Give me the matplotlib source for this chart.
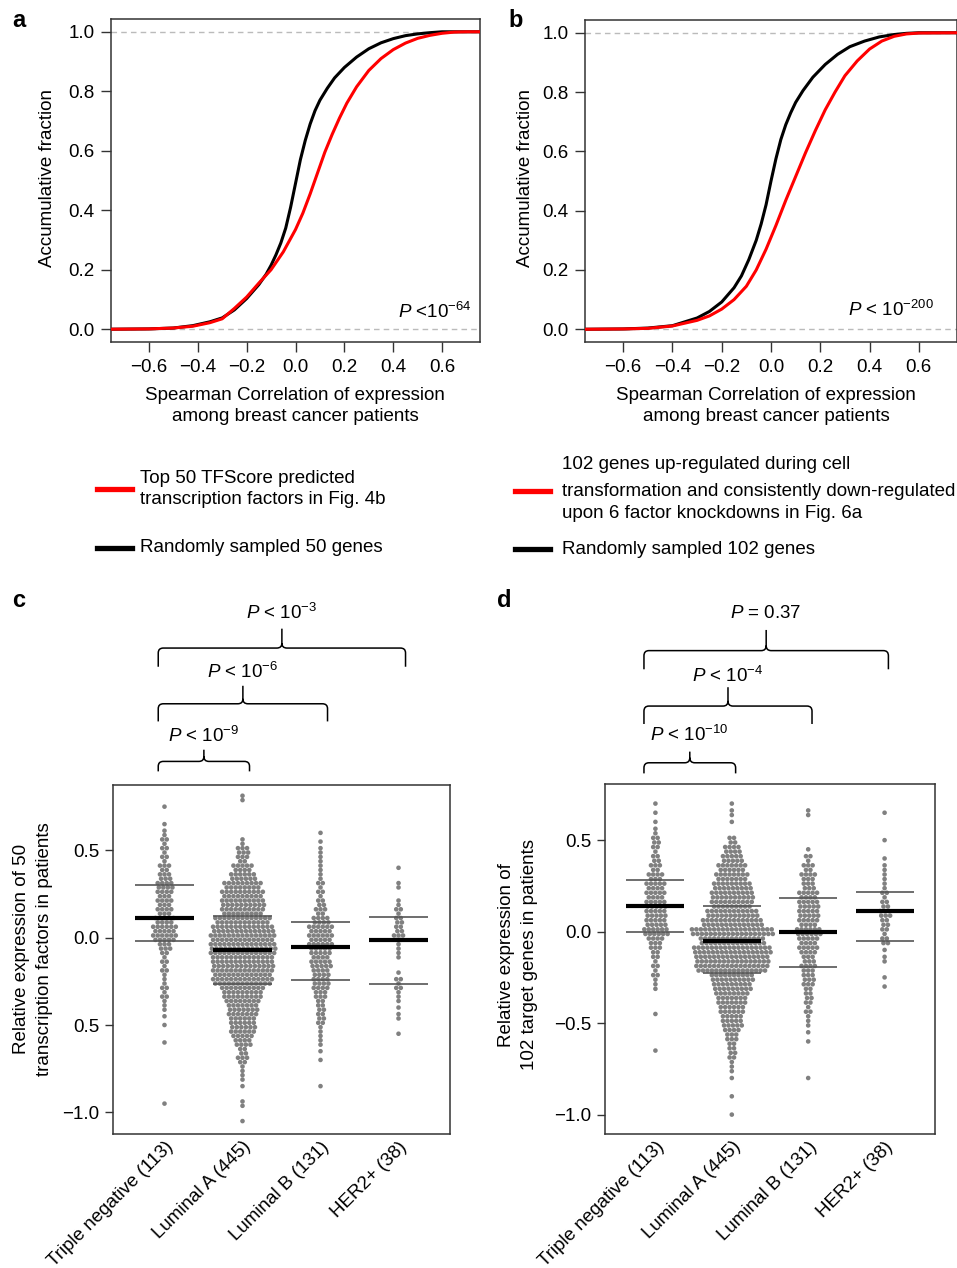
import matplotlib
matplotlib.use("Agg")
import matplotlib.pyplot as plt
from matplotlib.path import Path
from matplotlib.patches import PathPatch
from matplotlib.lines import Line2D

plt.rcParams['font.family'] = ['Liberation Sans', 'DejaVu Sans']
plt.rcParams['mathtext.fontset'] = 'custom'
plt.rcParams['mathtext.rm'] = 'Liberation Sans'
plt.rcParams['mathtext.it'] = 'Liberation Sans:italic'
FS = 13.5
plt.rcParams['font.size'] = FS

# ---- panel a / b : cumulative fractions ----
a_rand_x = [-0.75, -0.6, -0.5, -0.42, -0.35, -0.3, -0.25, -0.2, -0.15, -0.12, -0.1, -0.08, -0.06,
            -0.04, -0.02, 0.0, 0.02, 0.04, 0.06, 0.08, 0.1, 0.13, 0.16, 0.2, 0.25, 0.3, 0.35,
            0.4, 0.45, 0.5, 0.55, 0.6, 0.75]
a_rand_y = [0.0, 0.001, 0.004, 0.012, 0.025, 0.038, 0.065, 0.103, 0.15, 0.185, 0.215, 0.25, 0.29,
            0.34, 0.41, 0.49, 0.57, 0.635, 0.69, 0.735, 0.77, 0.81, 0.845, 0.88, 0.915, 0.943, 0.963,
            0.977, 0.987, 0.993, 0.997, 1.0, 1.0]
a_top_x = [-0.75, -0.6, -0.5, -0.42, -0.35, -0.3, -0.25, -0.2, -0.15, -0.1, -0.05, 0.0, 0.03,
           0.06, 0.09, 0.12, 0.15, 0.18, 0.21, 0.25, 0.3, 0.35, 0.4, 0.45, 0.5, 0.55, 0.6,
           0.65, 0.7, 0.75]
a_top_y = [0.0, 0.001, 0.004, 0.01, 0.022, 0.035, 0.07, 0.108, 0.155, 0.2, 0.26, 0.335, 0.39,
           0.455, 0.525, 0.595, 0.655, 0.71, 0.76, 0.815, 0.87, 0.91, 0.94, 0.962, 0.978, 0.988,
           0.995, 0.999, 1.0, 1.0]

b_rand_x = [-0.75, -0.6, -0.5, -0.4, -0.3, -0.25, -0.2, -0.15, -0.12, -0.09, -0.06, -0.04, -0.02,
            0.0, 0.02, 0.04, 0.06, 0.08, 0.1, 0.13, 0.17, 0.22, 0.27, 0.32, 0.38, 0.44, 0.5,
            0.55, 0.6, 0.75]
b_rand_y = [0.0, 0.001, 0.004, 0.012, 0.038, 0.06, 0.092, 0.14, 0.18, 0.235, 0.3, 0.355, 0.42,
            0.5, 0.575, 0.64, 0.69, 0.73, 0.765, 0.805, 0.85, 0.893, 0.927, 0.953, 0.972, 0.986,
            0.994, 0.998, 1.0, 1.0]
b_top_x = [-0.75, -0.6, -0.5, -0.4, -0.3, -0.25, -0.2, -0.15, -0.1, -0.06, -0.02, 0.02, 0.06,
           0.1, 0.14, 0.18, 0.22, 0.26, 0.3, 0.35, 0.4, 0.45, 0.5, 0.55, 0.6, 0.75]
b_top_y = [0.0, 0.001, 0.003, 0.011, 0.03, 0.045, 0.068, 0.1, 0.145, 0.2, 0.27, 0.35, 0.435,
           0.515, 0.595, 0.67, 0.74, 0.8, 0.855, 0.905, 0.945, 0.972, 0.988, 0.996, 0.999, 1.0]

# ---- panel c / d : patients per 0.05 bin (from top bin downwards) ----
groups = ['Triple negative (113)', 'Luminal A (445)', 'Luminal B (131)', 'HER2+ (38)']

c_tops = [0.75, 0.80, 0.60, 0.40]
c_tn = [1, 0, 1, 2, 3, 3, 3, 5, 6, 8, 7, 7, 7, 9, 11, 11, 6, 3, 3, 3, 2, 3, 3, 2, 1, 1, 0, 1,
        0, 0, 0, 0, 0, 0, 1]
c_luma = [2, 0, 0, 0, 0, 2, 6, 5, 9, 12, 17, 19, 20, 19, 25, 28, 29, 30, 29, 28, 27, 27, 19, 17,
          14, 13, 12, 11, 8, 4, 5, 2, 2, 1, 0, 2, 0, 1]
c_lumb = [1, 1, 2, 2, 2, 2, 3, 3, 4, 5, 8, 11, 11, 11, 9, 10, 8, 8, 7, 5, 4, 4, 3, 2, 2, 1, 1,
          0, 0, 1]
c_her2 = [1, 0, 2, 0, 2, 3, 4, 4, 5, 2, 2, 0, 1, 3, 3, 2, 1, 2, 0, 1]
c_med = [0.111, -0.072, -0.055, -0.011]
c_q1 = [-0.017, -0.267, -0.240, -0.267]
c_q3 = [0.302, 0.126, 0.088, 0.118]

d_tops = [0.70, 0.70, 0.65, 0.65]
d_tn = [1, 1, 1, 2, 4, 3, 4, 5, 7, 9, 9, 10, 10, 10, 12, 7, 5, 3, 3, 3, 2, 0, 0, 1, 0, 0, 0, 1]
d_luma = [1, 2, 1, 0, 4, 8, 10, 13, 15, 18, 20, 19, 24, 28, 38, 30, 36, 34, 33, 20, 18, 15, 13,
          11, 10, 7, 5, 4, 3, 2, 1, 0, 1, 0, 1]
d_lumb = [2, 0, 0, 0, 1, 3, 5, 7, 6, 9, 10, 10, 9, 12, 9, 9, 6, 7, 6, 5, 4, 3, 3, 2, 1, 1, 0,
          0, 0, 1]
d_her2 = [1, 0, 0, 1, 0, 1, 2, 2, 2, 3, 4, 6, 4, 3, 4, 1, 2, 0, 1, 1]
d_med = [0.138, -0.053, 0.0, 0.113]
d_q1 = [0.0, -0.226, -0.195, -0.053]
d_q3 = [0.282, 0.138, 0.182, 0.217]

c_pvals = [r'$P$ < 10$^{-9}$', r'$P$ < 10$^{-6}$', r'$P$ < 10$^{-3}$']
d_pvals = [r'$P$ < 10$^{-10}$', r'$P$ < 10$^{-4}$', r'$P$ = 0.37']

W, H = 957, 1268
fig = plt.figure(figsize=(W / 100, H / 100), dpi=100)


def box(x0, y0, x1, y1):
    return [x0 / W, 1 - y1 / H, (x1 - x0) / W, (y1 - y0) / H]


def style(ax):
    for s in ax.spines.values():
        s.set_color('#333333')
        s.set_linewidth(1.1)
    ax.tick_params(direction='out', length=6, width=1, color='#333333', labelsize=FS, pad=4)


def cdf_panel(ax, rx, ry, tx, ty, ptxt, px, py):
    ax.axhline(0, color='#bbbbbb', lw=1, ls=(0, (4, 3)), zorder=1)
    ax.axhline(1, color='#bbbbbb', lw=1, ls=(0, (4, 3)), zorder=1)
    ax.plot(rx, ry, color='black', lw=2.2, zorder=2)
    ax.plot(tx, ty, color='#ff0000', lw=2.2, zorder=3)
    ax.set_xlim(-0.755, 0.755)
    ax.set_ylim(-0.043, 1.043)
    ax.set_xticks([-0.6, -0.4, -0.2, 0.0, 0.2, 0.4, 0.6])
    ax.set_yticks([0, 0.2, 0.4, 0.6, 0.8, 1.0])
    ax.set_xticklabels(['\u22120.6', '\u22120.4', '\u22120.2', '0.0', '0.2', '0.4', '0.6'])
    ax.set_yticklabels(['0.0', '0.2', '0.4', '0.6', '0.8', '1.0'])
    style(ax)
    ax.tick_params(length=7, pad=5)
    ax.text(px, py, ptxt, ha='right', va='baseline', fontsize=FS)


ax_a = fig.add_axes(box(111, 19, 480, 342))
cdf_panel(ax_a, a_rand_x, a_rand_y, a_top_x, a_top_y, r'$P$ <10$^{-64}$', 0.72, 0.037)
ax_b = fig.add_axes(box(585, 20, 957, 342))
cdf_panel(ax_b, b_rand_x, b_rand_y, b_top_x, b_top_y, r'$P$ < 10$^{-200}$', 0.662, 0.045)

for xc in [48, 525]:
    fig.text(xc / W, 1 - 178 / H, 'Accumulative fraction', rotation=90, ha='center',
             va='center', fontsize=FS)
for xc in [295, 766]:
    fig.text(xc / W, 1 - 406 / H, 'Spearman Correlation of expression\namong breast cancer patients',
             ha='center', va='center', fontsize=FS, linespacing=1.32)

# panel letters
for xl, yl, t in [(12, 27, 'a'), (508, 27, 'b'), (12, 607, 'c'), (497, 607, 'd')]:
    fig.text(xl / W, 1 - yl / H, t, fontsize=17, fontweight='bold', va='baseline')


# legends
def leg_line(x0, x1, y, color):
    fig.add_artist(Line2D([x0 / W, x1 / W], [1 - y / H, 1 - y / H], color=color, lw=3.8,
                          transform=fig.transFigure))


leg_line(97, 132, 489, '#ff0000')
fig.text(140 / W, 1 - 489 / H, 'Top 50 TFScore predicted\ntranscription factors in Fig. 4b',
         va='center', fontsize=FS, linespacing=1.27)
leg_line(97, 132, 548, 'black')
fig.text(140 / W, 1 - 548 / H, 'Randomly sampled 50 genes', va='center', fontsize=FS)
leg_line(515, 550, 491, '#ff0000')
for yy, t in [(465, '102 genes up-regulated during cell'),
              (491, 'transformation and consistently down-regulated'),
              (514, 'upon 6 factor knockdowns in Fig. 6a')]:
    fig.text(562 / W, 1 - yy / H, t, va='center', fontsize=FS)
leg_line(515, 550, 549, 'black')
fig.text(562 / W, 1 - 549 / H, 'Randomly sampled 102 genes', va='center', fontsize=FS)


def swarm(ax, pos, top, counts, dx=0.058, dy=0.0125):
    xs, ys = [], []
    for i, n in enumerate(counts):
        yc = round(top - 0.05 * i, 4)
        if n == 0:
            continue
        rows = [(yc, 1, 0)] if n == 1 else [(yc + dy, (n + 1) // 2, 0), (yc - dy, n // 2, 1)]
        for y, m, lower in rows:
            # stagger the lower row when both rows hold the same number of points
            shift = dx / 4 if (lower and n % 2 == 0 and m > 1) else 0
            for k in range(m):
                xs.append(pos + (k - (m - 1) / 2) * dx + shift)
                ys.append(y)
    ax.scatter(xs, ys, s=11, color='#808080', edgecolors='none', zorder=2)


def brace(ax, x0, x1, h, drop, tick, rx=0.065, ry=0.028):
    xm = (x0 + x1) / 2
    verts = [(x0, h - drop), (x0, h - ry), (x0, h), (x0 + rx, h),
             (xm - rx, h), (xm, h), (xm, h + ry), (xm, h + tick),
             (x1, h - drop), (x1, h - ry), (x1, h), (x1 - rx, h),
             (xm + rx, h), (xm, h), (xm, h + ry)]
    M, L, C = Path.MOVETO, Path.LINETO, Path.CURVE3
    codes = [M, L, C, C, L, C, C, L, M, L, C, C, L, C, C]
    ax.add_patch(PathPatch(Path(verts, codes), fill=False, lw=1.1, edgecolor='black',
                           clip_on=False, transform=ax.transData))


def swarm_panel(ax, tops, data, med, q1, q3, ylim, ylabels, br, pvals, lpad, rpad):
    for i, (top, counts) in enumerate(zip(tops, data)):
        pos = i + 1
        swarm(ax, pos, top, counts)
        ax.hlines([q1[i], q3[i]], pos - 0.38, pos + 0.38, color='#555555', lw=1.2, zorder=3)
        ax.hlines(med[i], pos - 0.38, pos + 0.38, color='black', lw=3, zorder=4)
    for (g, h, drop, tick, ty), pt in zip(br, pvals):
        x0, x1 = 1 + lpad, g + rpad
        brace(ax, x0, x1, h, drop, tick)
        ax.text((x0 + x1) / 2, ty, pt, ha='center', va='center', fontsize=FS, clip_on=False)
    ax.set_xlim(0.34, 4.66)
    ax.set_ylim(*ylim)
    ax.set_yticks([0.5, 0.0, -0.5, -1.0])
    ax.set_yticklabels(ylabels)
    ax.set_xticks([1, 2, 3, 4])
    ax.set_xticklabels(groups, rotation=45, ha='right', rotation_mode='anchor', fontsize=11.8)
    style(ax)
    ax.tick_params(axis='x', length=0, pad=3)


ax_c = fig.add_axes(box(113, 785, 450, 1134))
swarm_panel(ax_c, c_tops, [c_tn, c_luma, c_lumb, c_her2], c_med, c_q1, c_q3, (-1.124, 0.874),
            ['0.5', '0.0', '0.5', '\u22121.0'],
            [(2, 1.009, 0.057, 0.067, 1.156), (3, 1.339, 0.101, 0.103, 1.524),
             (4, 1.658, 0.107, 0.111, 1.86)], c_pvals, -0.08, 0.09)
fig.text(33 / W, 1 - 949 / H, 'Relative expression of 50\ntranscription factors in patients',
         rotation=90, ha='center', va='center', fontsize=FS, linespacing=1.4)

ax_d = fig.add_axes(box(605, 784, 935, 1134))
swarm_panel(ax_d, d_tops, [d_tn, d_luma, d_lumb, d_her2], d_med, d_q1, d_q3, (-1.106, 0.807),
            ['0.5', '0.0', '\u22120.5', '\u22121.0'],
            [(2, 0.923, 0.058, 0.061, 1.075), (3, 1.233, 0.098, 0.103, 1.397),
             (4, 1.536, 0.102, 0.113, 1.74)], d_pvals, -0.15, 0.05)
fig.text(518 / W, 1 - 955 / H, 'Relative expression of\n102 target genes in patients',
         rotation=90, ha='center', va='center', fontsize=FS, linespacing=1.4)

fig.savefig('out.png', dpi=100)
